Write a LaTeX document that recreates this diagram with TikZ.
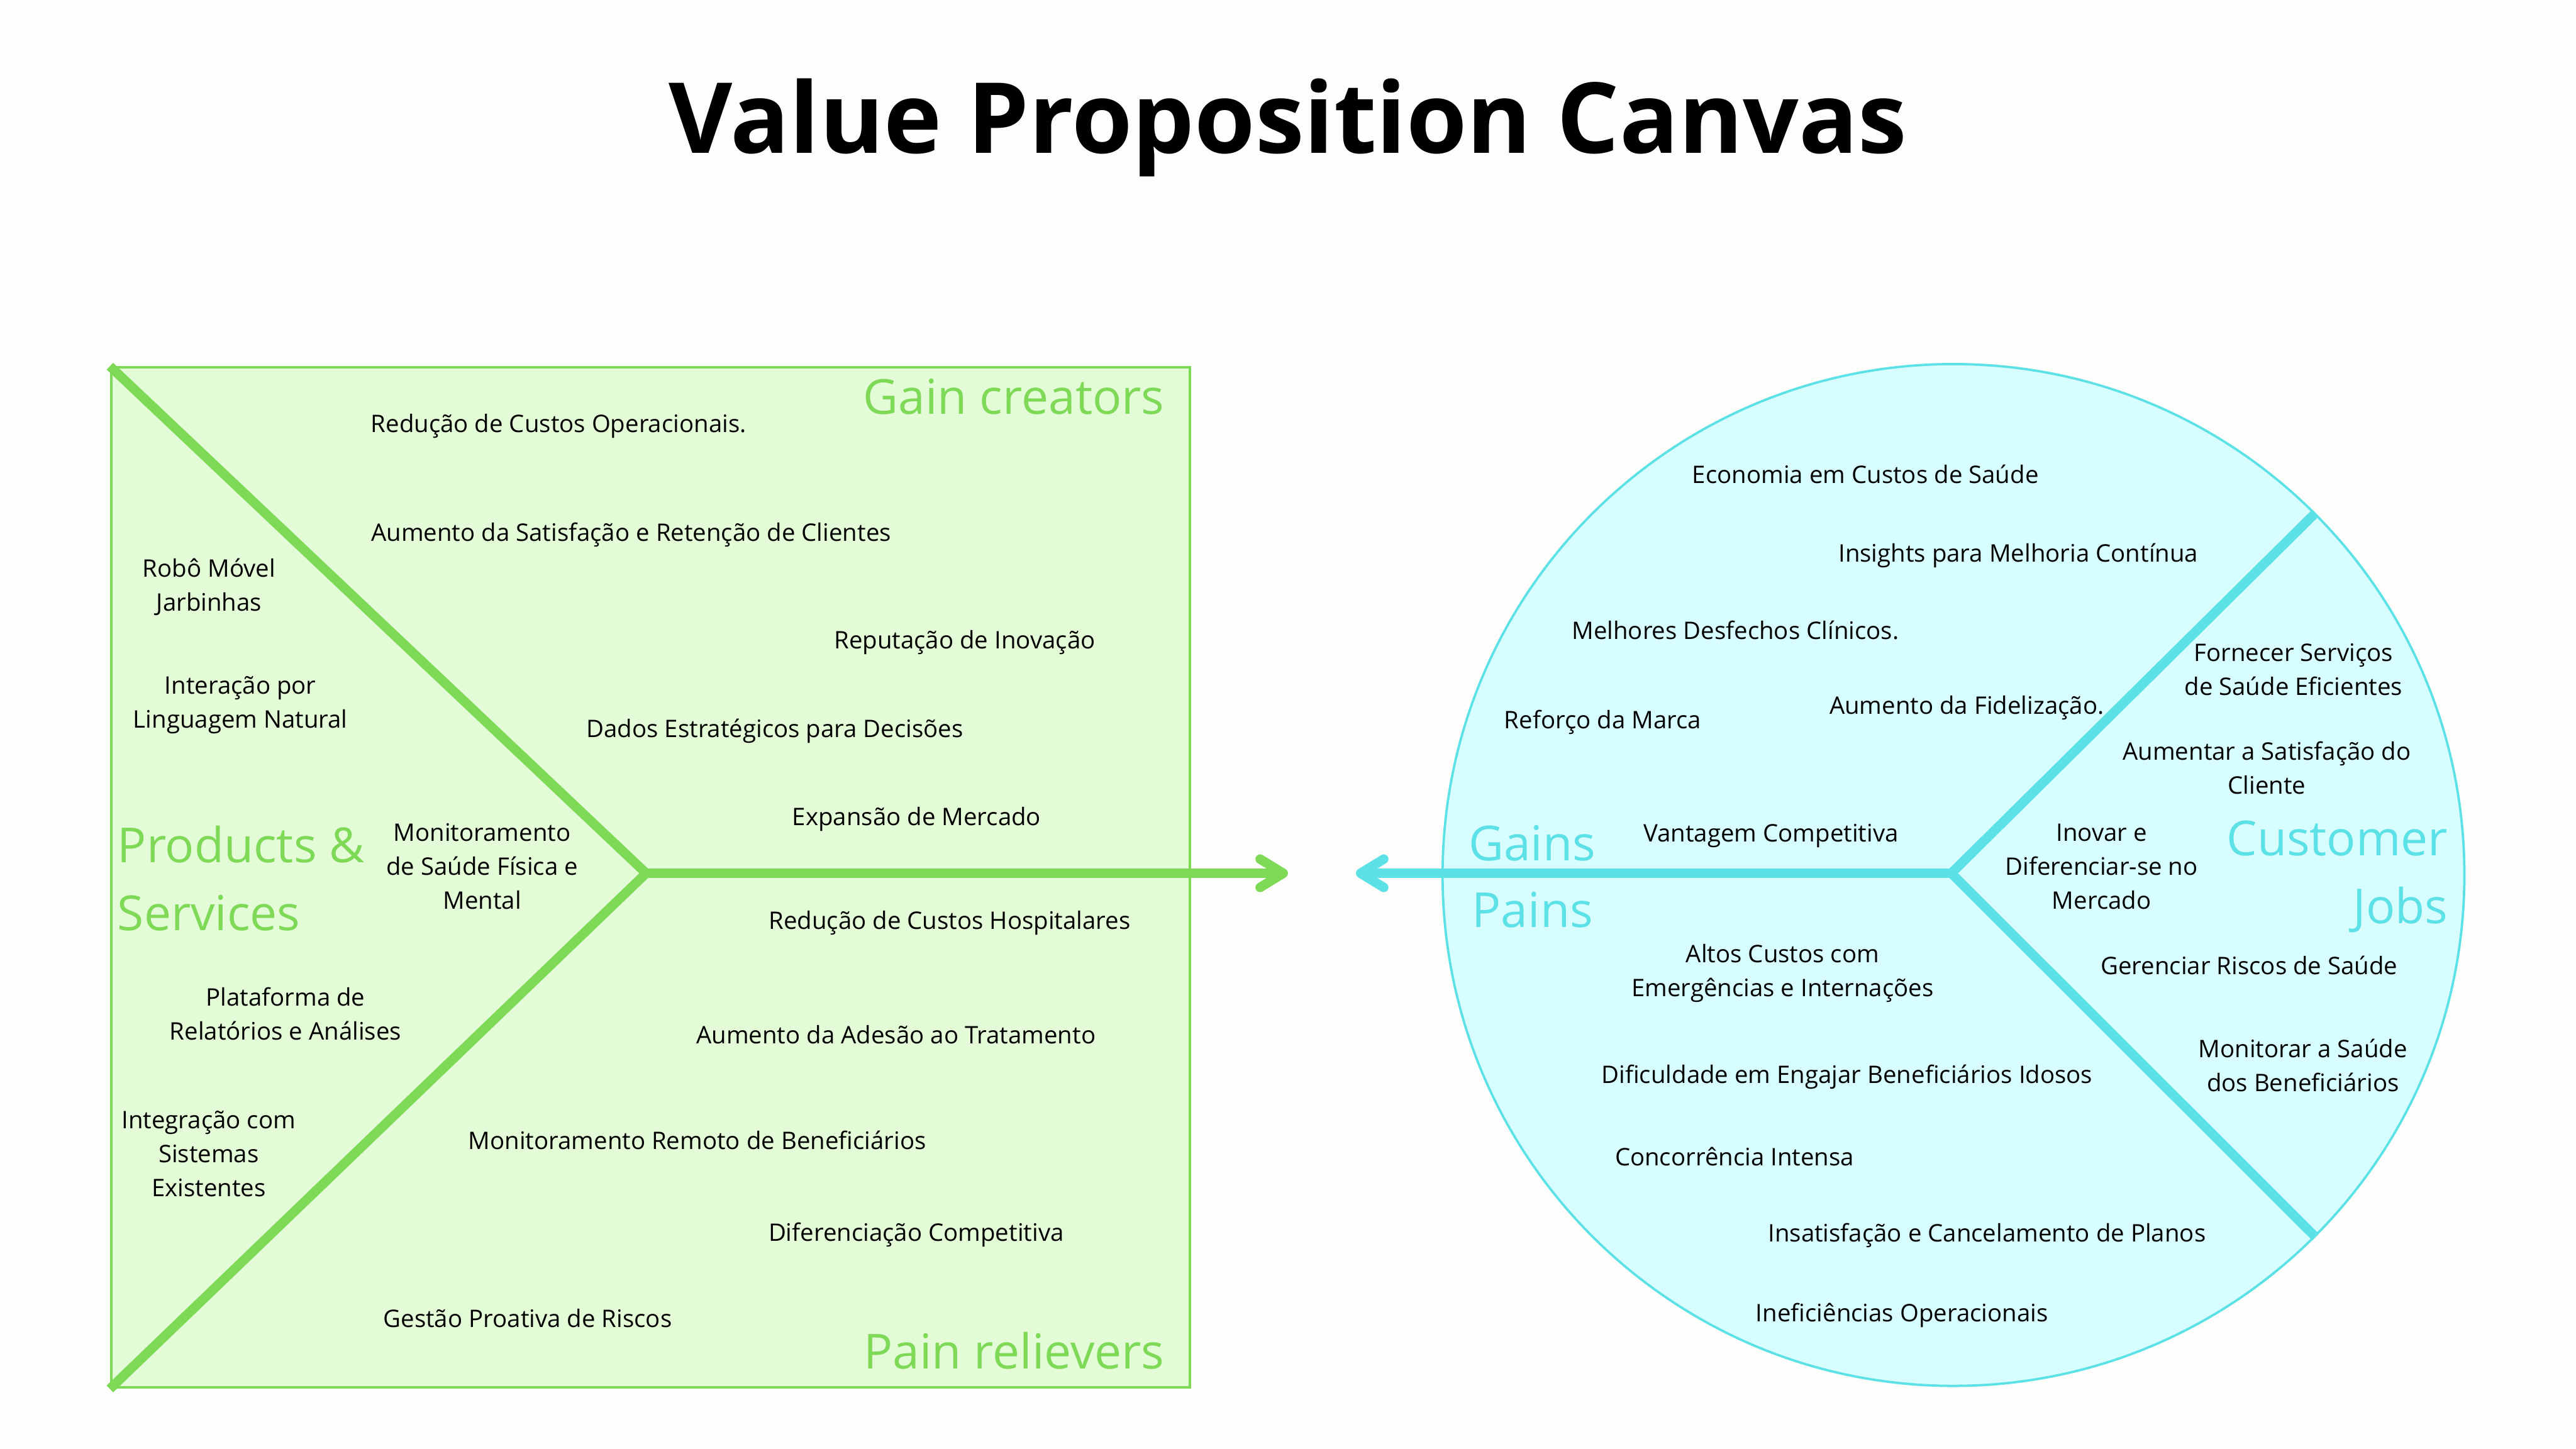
\documentclass[tikz,border=0pt]{standalone}
\usepackage{fontspec}
\setmainfont{Open Sans}
\usetikzlibrary{arrows.meta}
\definecolor{leaf}{HTML}{7ED957}
\definecolor{leaflight}{HTML}{E3FCD7}
\definecolor{aqua}{HTML}{5CE1E6}
\definecolor{aqualight}{HTML}{D8FDFF}
\definecolor{paper}{HTML}{FDFDFB}

\begin{document}
\begin{tikzpicture}[
  every node/.style={align=center, inner sep=0pt},
  item/.style={font=\fontsize{16}{22.5}\selectfont, text=black},
  zone/.style={font=\fontsize{32}{45}\selectfont},
  spine/.style={line width=2.2mm, line join=miter},
  tipped/.style={-{Straight Barb[length=5.4mm, width=6.6mm, round]}, line width=2.2mm}
]

%% Page and title
\fill[paper] (0,0) rectangle (60,-33.75);
\useasboundingbox (0,0) rectangle (60,-33.75);
\node[font=\fontsize{65}{78}\selectfont\bfseries, anchor=base] (title) at (30,-3.56) {Value Proposition Canvas};

%% Left: value map (square)
\node[draw=leaf, fill=leaflight, line width=0.6mm,
  minimum width=25.12cm, minimum height=23.76cm] (valuemap) at (15.15,-20.44) {};
\coordinate (gvertex) at (15.05,-20.34);
\coordinate (gtip) at (30.0,-20.34);
\draw[spine, leaf] (valuemap.north west) -- (gvertex) -- (valuemap.south west);
\draw[tipped, leaf] (gvertex) -- (gtip);

%% Right: customer profile (circle)
\node[circle, draw=aqua, fill=aqualight, line width=0.55mm,
  minimum size=23.8cm] (profile) at (45.50,-20.38) {};
\coordinate (avertex) at (45.45,-20.34);
\coordinate (atip) at (31.58,-20.34);
\draw[spine, aqua] (profile.45) -- (avertex) -- (profile.-45);
\draw[tipped, aqua] (avertex) -- (atip);

%% Zone labels (multi-line: base = last line)
\node[zone, text=leaf, anchor=base east] (gaincreators) at (27.13,-9.64) {Gain creators};
\node[zone, text=leaf, anchor=base east] (painrelievers) at (27.13,-31.88) {Pain relievers};
\node[zone, text=leaf, align=left, anchor=base west] (products) at (2.73,-21.67) {Products \&\\Services};
\node[zone, text=aqua, anchor=base west] (gains) at (34.20,-20.05) {Gains};
\node[zone, text=aqua, anchor=base west] (pains) at (34.28,-21.60) {Pains};
\node[zone, text=aqua, align=right, anchor=base east] (jobs) at (57.02,-21.51) {Customer\\Jobs};

%% Gain creators
\node[item] (opcost) at (13.01,-9.93) {Redução de Custos Operacionais.};
\node[item] (satisf) at (14.70,-12.46) {Aumento da Satisfação e Retenção de Clientes};
\node[item] (reput) at (22.47,-14.97) {Reputação de Inovação};
\node[item] (datastrat) at (18.05,-17.02) {Dados Estratégicos para Decisões};
\node[item] (expand) at (21.35,-19.08) {Expansão de Mercado};

%% Pain relievers
\node[item] (hospcost) at (22.12,-21.50) {Redução de Custos Hospitalares};
\node[item] (adherence) at (20.87,-24.10) {Aumento da Adesão ao Tratamento};
\node[item] (remote) at (16.24,-26.55) {Monitoramento Remoto de Beneficiários};
\node[item] (diffcomp) at (21.34,-28.76) {Diferenciação Competitiva};
\node[item] (riskmgmt) at (12.29,-30.71) {Gestão Proativa de Riscos};

%% Products & services
\node[item] (robot) at (4.87,-13.67) {Robô Móvel\\Jarbinhas};
\node[item] (nlp) at (5.60,-16.42) {Interação por\\Linguagem Natural};
\node[item] (health) at (11.23,-20.18) {Monitoramento\\de Saúde Física e\\Mental};
\node[item] (reports) at (6.65,-23.62) {Plataforma de\\Relatórios e Análises};
\node[item] (integr) at (4.86,-26.88) {Integração com\\Sistemas\\Existentes};

%% Gains
\node[item] (econ) at (43.45,-11.05) {Economia em Custos de Saúde};
\node[item] (insights) at (47.01,-12.94) {Insights para Melhoria Contínua};
\node[item] (outcomes) at (40.42,-14.68) {Melhores Desfechos Clínicos.};
\node[item] (brand) at (37.33,-16.82) {Reforço da Marca};
\node[item] (loyalty) at (45.81,-16.48) {Aumento da Fidelização.};
\node[item] (advantage) at (41.25,-19.47) {Vantagem Competitiva};

%% Pains
\node[item] (emergency) at (41.52,-22.67) {Altos Custos com\\Emergências e Internações};
\node[item] (engage) at (43.02,-25.09) {Dificuldade em Engajar Beneficiários Idosos};
\node[item] (competition) at (40.40,-26.94) {Concorrência Intensa};
\node[item] (churn) at (46.28,-28.78) {Insatisfação e Cancelamento de Planos};
\node[item] (ineff) at (44.30,-30.64) {Ineficiências Operacionais};

%% Customer jobs
\node[item] (services) at (53.42,-15.59) {Fornecer Serviços\\de Saúde Eficientes};
\node[item] (custsat) at (52.80,-17.88) {Aumentar a Satisfação do\\Cliente};
\node[item] (innovate) at (48.95,-20.19) {Inovar e\\Diferenciar-se no\\Mercado};
\node[item] (risks) at (52.39,-22.49) {Gerenciar Riscos de Saúde};
\node[item] (monitor) at (53.64,-24.82) {Monitorar a Saúde\\dos Beneficiários};

\end{tikzpicture}
\end{document}
